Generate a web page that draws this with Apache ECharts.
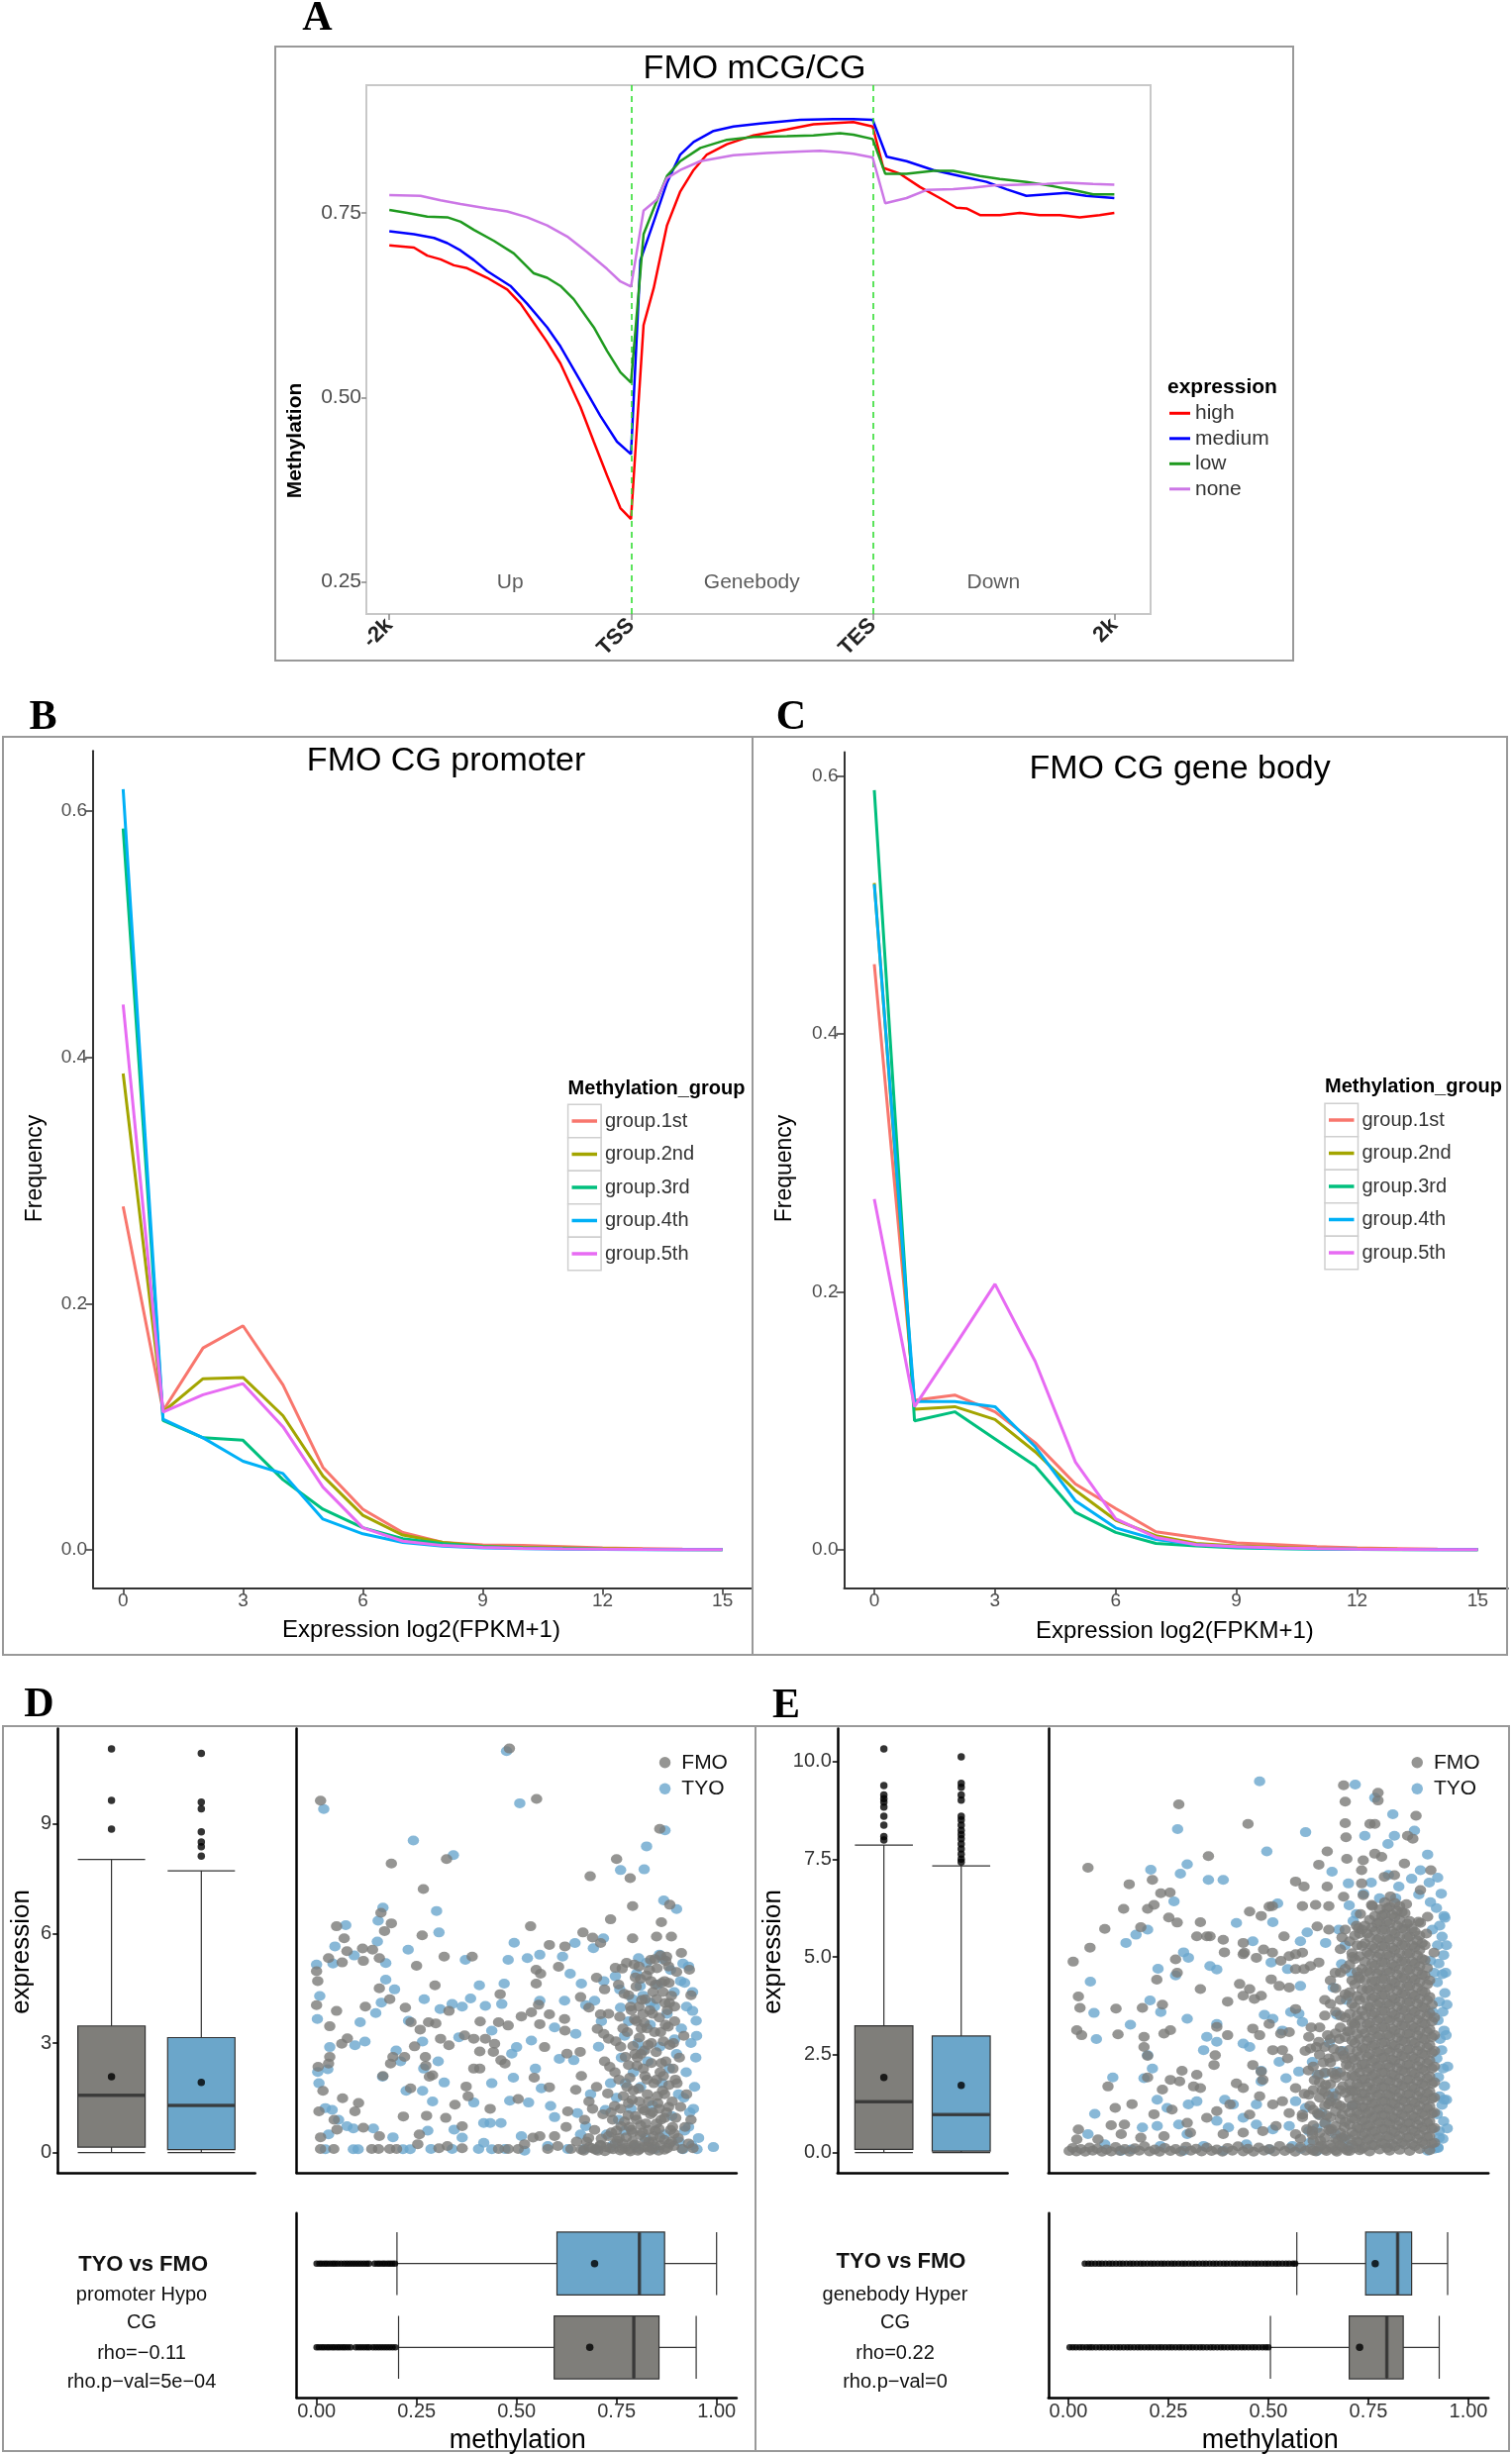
<!DOCTYPE html>
<html><head><meta charset="utf-8">
<script src="https://cdn.jsdelivr.net/npm/echarts@6/dist/echarts.min.js"></script>
<style>html,body{margin:0;padding:0;background:#fff}#c{width:1527px;height:2480px}</style>
</head><body><div id="c"></div>
<script>
// ---------------- Panel A data ----------------
const A_TICK_POS = [0, 1, 2, 3];
const A_TICK_LABELS = ['-2k', 'TSS', 'TES', '2k'];
const A_Y_TICKS = [0.25, 0.5, 0.75];
const REGION_NAMES = ['Up', 'Genebody', 'Down'];
const REGION_POS = [0.5, 1.5, 2.5];
const EXPR_NAMES = ['high', 'medium', 'low', 'none'];
const EXPR_COLORS = ['#ff0000', '#0000ff', '#1f9a1f', '#cc77e6'];
const highProfile = [[0,0.706],[0.102,0.703],[0.157,0.692],[0.212,0.687],[0.267,0.679],[0.322,0.675],[0.405,0.662],[0.488,0.646],[0.543,0.627],[0.598,0.601],[0.653,0.575],[0.708,0.546],[0.791,0.487],[0.846,0.440],[0.901,0.394],[0.956,0.350],[1.0,0.335],[1.052,0.598],[1.094,0.648],[1.149,0.733],[1.204,0.779],[1.259,0.808],[1.314,0.829],[1.397,0.843],[1.507,0.855],[1.645,0.863],[1.755,0.870],[1.865,0.872],[1.920,0.873],[2.0,0.867],[2.044,0.811],[2.113,0.803],[2.196,0.785],[2.278,0.770],[2.347,0.757],[2.388,0.756],[2.444,0.747],[2.526,0.747],[2.609,0.750],[2.691,0.747],[2.774,0.747],[2.857,0.744],[2.939,0.747],[3.0,0.750]];
const mediumProfile = [[0,0.725],[0.102,0.721],[0.185,0.716],[0.240,0.709],[0.295,0.699],[0.350,0.686],[0.405,0.671],[0.501,0.651],[0.570,0.627],[0.653,0.595],[0.708,0.569],[0.791,0.522],[0.873,0.475],[0.942,0.440],[1.0,0.423],[1.039,0.686],[1.094,0.738],[1.149,0.791],[1.204,0.829],[1.259,0.846],[1.342,0.861],[1.424,0.867],[1.534,0.871],[1.700,0.876],[1.837,0.877],[1.920,0.877],[2.0,0.876],[2.058,0.826],[2.140,0.820],[2.251,0.808],[2.361,0.800],[2.471,0.792],[2.554,0.782],[2.636,0.773],[2.719,0.775],[2.802,0.777],[2.884,0.773],[3.0,0.770]];
const lowProfile = [[0,0.754],[0.074,0.750],[0.157,0.745],[0.240,0.744],[0.295,0.738],[0.350,0.727],[0.433,0.712],[0.515,0.695],[0.598,0.668],[0.653,0.662],[0.708,0.651],[0.763,0.633],[0.846,0.595],[0.901,0.563],[0.956,0.534],[1.0,0.520],[1.052,0.721],[1.094,0.756],[1.149,0.800],[1.204,0.820],[1.287,0.838],[1.397,0.849],[1.507,0.853],[1.645,0.854],[1.755,0.855],[1.865,0.858],[1.920,0.856],[2.0,0.850],[2.052,0.803],[2.140,0.803],[2.251,0.807],[2.333,0.807],[2.444,0.800],[2.526,0.796],[2.636,0.792],[2.747,0.786],[2.857,0.779],[2.912,0.775],[3.0,0.775]];
const noneProfile = [[0,0.774],[0.129,0.773],[0.212,0.767],[0.295,0.762],[0.405,0.756],[0.488,0.752],[0.570,0.744],[0.653,0.733],[0.736,0.718],[0.818,0.697],[0.901,0.674],[0.956,0.657],[1.0,0.650],[1.052,0.753],[1.107,0.768],[1.149,0.797],[1.204,0.808],[1.287,0.820],[1.424,0.828],[1.562,0.831],[1.700,0.833],[1.782,0.834],[1.865,0.832],[1.920,0.830],[2.0,0.825],[2.052,0.763],[2.140,0.770],[2.223,0.781],[2.333,0.782],[2.416,0.784],[2.499,0.787],[2.609,0.788],[2.719,0.789],[2.802,0.791],[2.912,0.789],[3.0,0.788]];

// ---------------- Panels B / C data ----------------
const EXPR_BINS = [0,1,2,3,4,5,6,7,8,9,10,11,12,13,14,15];
const FREQ_X_TICKS = [0,3,6,9,12,15];
const FREQ_Y_TICKS = [0,0.2,0.4,0.6];
const GROUP_NAMES = ['group.1st','group.2nd','group.3rd','group.4th','group.5th'];
const GROUP_COLORS = ['#F8766D','#A3A500','#00BF7D','#00B0F6','#E76BF3'];
const promoterG1 = [0.279,0.113,0.164,0.182,0.134,0.067,0.033,0.014,0.006,0.004,0.0035,0.0025,0.0015,0.001,0.0005,0.0003];
const promoterG2 = [0.387,0.112,0.139,0.140,0.109,0.060,0.028,0.012,0.006,0.003,0.002,0.0015,0.001,0.0005,0.0003,0.0002];
const promoterG3 = [0.586,0.105,0.091,0.089,0.057,0.033,0.018,0.009,0.005,0.0025,0.0015,0.001,0.0005,0.0003,0.0002,0.0001];
const promoterG4 = [0.618,0.106,0.091,0.072,0.062,0.025,0.013,0.006,0.003,0.0015,0.001,0.0005,0.0003,0.0002,0.0001,0.0001];
const promoterG5 = [0.443,0.112,0.126,0.135,0.100,0.051,0.018,0.007,0.0035,0.002,0.0012,0.0008,0.0005,0.0003,0.0002,0.0001];
const genebodyG1 = [0.454,0.116,0.120,0.107,0.083,0.051,0.032,0.014,0.0096,0.0053,0.004,0.0024,0.0015,0.001,0.0005,0.0003];
const genebodyG2 = [0.517,0.109,0.111,0.101,0.076,0.046,0.023,0.011,0.005,0.003,0.002,0.0012,0.0008,0.0005,0.0003,0.0002];
const genebodyG3 = [0.589,0.100,0.107,0.086,0.065,0.029,0.0135,0.005,0.003,0.0015,0.001,0.0006,0.0004,0.0002,0.0001,0.0001];
const genebodyG4 = [0.516,0.115,0.115,0.111,0.080,0.038,0.017,0.008,0.004,0.002,0.0012,0.0008,0.0005,0.0003,0.0002,0.0001];
const genebodyG5 = [0.272,0.111,0.158,0.206,0.146,0.068,0.024,0.0096,0.004,0.0024,0.0015,0.001,0.0006,0.0004,0.0002,0.0001];

// ---------------- Panels D / E data ----------------
const BOX_CATS = ['FMO','TYO'];
const METH_TICKS = [0,0.25,0.5,0.75,1];
const D_EXPR_TICKS = [0,3,6,9];
const E_EXPR_TICKS = [0,2.5,5,7.5,10];
const dExprBoxFMO = [0,0.15,1.57,3.47,8.03];
const dExprBoxTYO = [0,0.08,1.29,3.15,7.72];
const dExprMean = [2.08,1.92];
const dExprOutFMO = [11.06,9.65,8.86];
const dExprOutTYO = [10.94,9.60,9.42,8.79,8.51,8.38,8.12];
const dMethBoxFMO = [0.205,0.594,0.793,0.856,0.949];
const dMethBoxTYO = [0.201,0.601,0.807,0.870,1.0];
const dMethMean = [0.683,0.695];
const dMethOutFMO = [0.0,0.006,0.013,0.019,0.026,0.032,0.039,0.045,0.052,0.058,0.065,0.071,0.078,0.085,0.098,0.105,0.112,0.119,0.126,0.132,0.141,0.148,0.155,0.162,0.169,0.176,0.183,0.19,0.197];
const dMethOutTYO = [0.0,0.007,0.013,0.02,0.026,0.033,0.04,0.046,0.053,0.061,0.069,0.076,0.083,0.09,0.097,0.104,0.111,0.118,0.125,0.131,0.145,0.152,0.158,0.165,0.171,0.178,0.184,0.19,0.196];
const eExprBoxFMO = [0,0.08,1.30,3.24,7.86];
const eExprBoxTYO = [0,0.04,0.97,2.98,7.33];
const eExprMean = [1.92,1.72];
const eExprOutFMO = [10.32,9.38,9.14,9.05,8.96,8.83,8.60,8.37,8.08,7.99];
const eExprOutTYO = [10.12,9.44,9.34,9.14,9.01,8.60,8.50,8.37,8.24,8.13,8.02,7.89,7.76,7.63,7.50,7.43];
const eMethBoxFMO = [0.505,0.702,0.796,0.837,0.927];
const eMethBoxTYO = [0.571,0.743,0.823,0.858,0.948];
const eMethMean = [0.728,0.767];
const eMethOutFMO = [0.003,0.011,0.019,0.028,0.036,0.045,0.053,0.06,0.069,0.078,0.086,0.095,0.103,0.112,0.121,0.129,0.138,0.147,0.155,0.164,0.173,0.181,0.19,0.199,0.207,0.216,0.225,0.233,0.242,0.251,0.259,0.268,0.277,0.285,0.294,0.303,0.311,0.32,0.329,0.337,0.346,0.355,0.363,0.372,0.381,0.389,0.398,0.407,0.415,0.424,0.433,0.441,0.45,0.459,0.467,0.476,0.485,0.493,0.5];
const eMethOutTYO = [0.041,0.05,0.058,0.067,0.076,0.084,0.093,0.102,0.11,0.119,0.128,0.136,0.145,0.154,0.162,0.171,0.18,0.188,0.197,0.206,0.214,0.223,0.232,0.24,0.249,0.258,0.266,0.275,0.284,0.292,0.301,0.31,0.318,0.327,0.336,0.344,0.353,0.362,0.37,0.379,0.388,0.396,0.405,0.414,0.422,0.431,0.44,0.448,0.457,0.466,0.474,0.483,0.492,0.5,0.509,0.518,0.526,0.535,0.544,0.552,0.561,0.567];

const dScatterFMO = [[0.482,11.07],[0.55,9.69],[0.01,9.64],[0.858,8.87],[0.187,7.92],[0.325,8.04],[0.267,7.22],[0.75,8.04],[0.684,7.57],[0.784,7.52],[0.79,6.75],[0.883,6.79],[0.735,6.39],[0.862,6.31],[0.535,6.2],[0.666,6.03],[0.69,5.89],[0.71,5.74],[0.79,5.87],[0.85,5.92],[0.887,5.92],[0.161,6.57],[0.187,6.28],[0.17,6.07],[0.05,6.2],[0.069,5.87],[0.076,5.52],[0.115,5.59],[0.14,5.56],[0.03,5.33],[0.064,5.21],[0.117,5.25],[0.157,5.33],[0.264,5.95],[0.319,5.37],[0.389,5.37],[0.25,5.12],[0.582,5.69],[0.621,5.65],[0.0,4.97],[0.003,4.7],[0.0,4.04],[0.05,3.88],[0.033,3.46],[0.122,4.0],[0.157,4.5],[0.183,4.2],[0.296,4.58],[0.222,3.97],[0.236,3.57],[0.259,3.37],[0.28,3.57],[0.298,3.54],[0.331,3.88],[0.31,3.12],[0.331,2.94],[0.37,3.21],[0.393,3.12],[0.409,3.59],[0.422,3.12],[0.455,3.57],[0.479,3.48],[0.459,4.34],[0.512,3.73],[0.537,3.84],[0.555,4.05],[0.549,4.63],[0.549,5.01],[0.56,4.9],[0.605,5.09],[0.66,4.26],[0.70,4.79],[0.72,4.47],[0.747,5.06],[0.764,5.04],[0.81,4.76],[0.78,4.31],[0.835,5.28],[0.875,5.37],[0.912,5.47],[0.932,5.01],[0.936,4.31],[0.881,4.65],[0.582,3.79],[0.558,3.52],[0.62,3.66],[0.621,3.34],[0.681,3.97],[0.71,3.79],[0.702,3.39],[0.718,3.25],[0.73,3.12],[0.445,2.98],[0.442,2.76],[0.461,2.53],[0.471,2.44],[0.408,2.77],[0.408,2.3],[0.393,2.3],[0.374,1.81],[0.379,1.54],[0.272,2.62],[0.273,2.38],[0.245,2.91],[0.22,2.62],[0.185,2.44],[0.191,2.62],[0.166,2.1],[0.063,2.98],[0.077,3.13],[0.033,2.62],[0.03,2.44],[0.004,2.35],[0.016,1.69],[0.065,1.49],[0.105,1.36],[0.096,1.13],[0.006,1.13],[0.044,0.9],[0.051,0.63],[0.01,0.42],[0.117,0.68],[0.157,0.45],[0.235,1.76],[0.217,0.99],[0.275,1.01],[0.282,2.08],[0.29,2.12],[0.323,0.95],[0.346,1.31],[0.364,0.72],[0.434,1.2],[0.504,1.47],[0.544,2.05],[0.582,1.79],[0.57,2.89],[0.626,2.71],[0.659,2.76],[0.648,1.72],[0.662,2.1],[0.681,1.4],[0.628,1.13],[0.624,0.7],[0.558,0.45],[0.595,0.45],[0.541,0.41],[0.257,0.5],[0.253,0.23],[0.043,0.1],[0.01,0.1],[0.138,0.1],[0.155,0.1],[0.183,0.1],[0.2,0.1],[0.306,0.12],[0.327,0.18],[0.364,0.12],[0.455,0.1],[0.479,0.1],[0.504,0.1],[0.52,0.23],[0.578,0.1],[0.603,0.18],[0.636,0.1]];
const dScatterFMOCore = [[0.662,0.08],[0.675,0.3],[0.688,0.12],[0.695,0.62],[0.703,0.05],[0.712,0.38],[0.716,1.05],[0.724,0.15],[0.728,1.62],[0.733,2.35],[0.737,0.55],[0.741,0.09],[0.745,1.28],[0.748,3.05],[0.752,0.32],[0.756,2.0],[0.758,3.72],[0.761,0.72],[0.764,0.1],[0.767,1.55],[0.769,4.35],[0.772,2.62],[0.774,0.42],[0.777,3.3],[0.779,1.02],[0.781,0.08],[0.783,2.05],[0.785,4.0],[0.787,0.62],[0.789,1.45],[0.791,2.92],[0.793,0.2],[0.795,3.65],[0.797,1.0],[0.799,4.55],[0.801,2.38],[0.803,0.05],[0.805,1.75],[0.807,3.15],[0.809,0.48],[0.811,2.7],[0.813,4.18],[0.815,1.2],[0.817,0.15],[0.819,3.55],[0.821,2.1],[0.823,0.8],[0.825,4.85],[0.827,1.6],[0.829,2.95],[0.831,0.3],[0.833,3.9],[0.835,1.05],[0.837,2.45],[0.839,0.1],[0.841,4.4],[0.843,1.9],[0.845,3.3],[0.847,0.6],[0.849,2.75],[0.851,5.05],[0.853,1.35],[0.855,0.05],[0.857,3.7],[0.859,2.2],[0.861,0.9],[0.863,4.65],[0.865,1.7],[0.867,3.05],[0.869,0.35],[0.871,4.1],[0.873,2.5],[0.875,1.1],[0.877,0.12],[0.879,3.45],[0.881,1.85],[0.883,2.95],[0.885,0.62],[0.887,4.3],[0.889,1.4],[0.891,2.3],[0.893,0.18],[0.895,3.6],[0.898,0.95],[0.901,1.9],[0.904,0.4],[0.907,2.6],[0.91,1.25],[0.914,0.1],[0.918,3.2],[0.921,0.7],[0.925,1.6],[0.93,0.25],[0.936,0.9],[0.941,0.12],[0.765,0.25],[0.79,0.3],[0.815,0.55],[0.84,0.3],[0.86,0.2],[0.8,0.9],[0.83,1.4],[0.85,2.0],[0.87,1.6],[0.82,2.8],[0.78,2.4],[0.86,3.3],[0.84,3.8],[0.87,4.7],[0.85,4.2],[0.826,3.4],[0.806,4.0],[0.846,5.3],[0.88,5.1],[0.9,4.95],[0.895,4.0],[0.86,5.4],[0.873,5.25],[0.8,3.6],[0.74,0.9],[0.76,2.9],[0.72,2.5],[0.7,1.8],[0.71,0.2],[0.69,1.2],[0.68,0.4],[0.65,0.3],[0.67,0.9],[0.73,3.8],[0.755,4.6],[0.775,5.2],[0.794,5.15],[0.668,0.05],[0.682,0.15],[0.697,0.08],[0.709,0.2],[0.721,0.04],[0.734,0.12],[0.747,0.25],[0.759,0.06],[0.771,0.14],[0.784,0.03],[0.796,0.22],[0.808,0.09],[0.82,0.3],[0.833,0.05],[0.845,0.17],[0.858,0.42],[0.87,0.08],[0.882,0.24],[0.894,0.52],[0.75,0.6],[0.77,0.85],[0.79,0.55],[0.81,0.75],[0.83,0.62],[0.85,0.8],[0.87,0.95],[0.89,0.7],[0.73,0.45],[0.76,1.2],[0.78,1.35],[0.82,1.15],[0.84,1.1],[0.88,1.25],[0.782,0.7],[0.792,1.7],[0.802,2.6],[0.812,3.4],[0.822,4.2],[0.832,5.0],[0.842,0.45],[0.852,1.55],[0.862,2.45],[0.872,3.5],[0.882,4.1],[0.892,3.0],[0.787,3.9],[0.797,4.8],[0.807,1.4],[0.817,2.3],[0.827,0.15],[0.837,3.0],[0.847,4.6],[0.857,1.2],[0.867,2.1],[0.877,3.9],[0.887,0.3],[0.897,2.0],[0.776,1.8],[0.766,3.4],[0.756,0.4],[0.746,2.2],[0.736,1.1],[0.806,5.1],[0.836,4.7],[0.866,4.4],[0.856,0.65],[0.826,2.0],[0.816,3.8],[0.796,2.7]];
const dScatterTYO = [[0.475,11.0],[0.508,9.57],[0.018,9.41],[0.871,8.83],[0.242,8.55],[0.342,8.15],[0.825,8.39],[0.819,7.76],[0.76,7.74],[0.868,6.91],[0.9,6.67],[0.30,6.62],[0.166,6.71],[0.154,6.35],[0.073,6.23],[0.306,6.03],[0.494,5.75],[0.646,5.74],[0.717,5.87],[0.692,5.6],[0.152,5.78],[0.046,5.65],[0.094,5.4],[0.229,5.56],[0.372,5.28],[0.479,5.28],[0.527,5.33],[0.558,5.42],[0.615,5.37],[0.173,5.19],[0.041,5.18],[0.0,5.15],[0.805,5.33],[0.857,5.42],[0.916,5.18],[0.008,4.29],[0.002,3.66],[0.173,4.74],[0.195,4.47],[0.162,4.11],[0.148,3.82],[0.109,3.57],[0.269,4.2],[0.309,3.93],[0.339,4.07],[0.364,4.0],[0.385,4.22],[0.407,4.58],[0.422,4.02],[0.463,4.07],[0.469,4.63],[0.558,4.16],[0.62,4.16],[0.634,4.9],[0.662,4.63],[0.673,4.04],[0.695,4.16],[0.718,4.7],[0.747,4.83],[0.758,4.47],[0.76,3.97],[0.809,4.56],[0.834,4.11],[0.92,4.65],[0.94,3.88],[0.949,3.61],[0.648,3.25],[0.595,3.43],[0.537,3.07],[0.5,2.89],[0.488,2.71],[0.438,3.34],[0.356,3.16],[0.265,3.04],[0.23,3.61],[0.121,3.04],[0.096,2.94],[0.033,2.89],[0.028,2.28],[0.003,2.21],[0.006,1.9],[0.199,2.8],[0.21,2.5],[0.268,2.3],[0.304,2.5],[0.319,1.92],[0.265,1.69],[0.224,1.69],[0.165,2.08],[0.29,1.4],[0.393,1.37],[0.438,1.9],[0.483,1.42],[0.53,1.37],[0.492,2.05],[0.547,2.3],[0.562,1.76],[0.607,2.57],[0.643,2.53],[0.585,1.28],[0.595,0.97],[0.652,1.08],[0.673,0.72],[0.722,1.17],[0.022,1.22],[0.039,1.17],[0.055,0.9],[0.076,0.72],[0.092,0.66],[0.142,0.66],[0.191,0.42],[0.278,0.6],[0.344,0.63],[0.364,0.41],[0.418,0.81],[0.434,0.81],[0.461,0.81],[0.512,0.45],[0.03,0.5],[0.022,0.09],[0.092,0.09],[0.104,0.09],[0.216,0.09],[0.234,0.09],[0.286,0.1],[0.339,0.1],[0.405,0.1],[0.418,0.27],[0.438,0.09],[0.471,0.1],[0.52,0.05],[0.578,0.18],[0.628,0.1],[0.669,0.1],[0.916,0.09],[0.951,0.09],[0.992,0.15]];
const dScatterTYOCore = [[0.74,0.2],[0.75,1.5],[0.762,2.6],[0.77,0.6],[0.78,3.6],[0.786,1.2],[0.792,2.2],[0.798,0.15],[0.803,3.0],[0.81,1.8],[0.816,4.3],[0.822,0.4],[0.828,2.5],[0.834,3.5],[0.84,1.3],[0.846,0.1],[0.852,4.6],[0.858,2.9],[0.864,1.9],[0.87,0.5],[0.876,3.8],[0.882,2.3],[0.888,1.0],[0.894,4.4],[0.9,2.7],[0.906,0.3],[0.912,3.4],[0.918,1.5],[0.924,2.2],[0.93,0.7],[0.936,3.0],[0.942,1.2],[0.948,2.6],[0.955,0.4],[0.925,4.0],[0.93,5.1],[0.91,4.7],[0.945,1.8],[0.938,0.2],[0.92,0.6],[0.905,1.6],[0.895,3.1],[0.885,5.0],[0.865,5.3],[0.845,4.0],[0.825,5.2],[0.815,2.8],[0.8,4.9],[0.79,4.2],[0.77,3.2],[0.755,0.9],[0.735,1.9],[0.725,0.5],[0.705,2.9],[0.7,0.1],[0.685,1.6],[0.66,0.5],[0.712,3.6],[0.772,1.9],[0.94,4.4],[0.95,3.2],[0.933,1.1]];

const eScatterFMO = [[0.049,7.28],[0.276,8.9],[0.449,8.4],[0.35,7.58],[0.152,6.86],[0.21,6.97],[0.231,6.63],[0.254,6.65],[0.138,6.23],[0.198,6.23],[0.214,6.33],[0.091,5.72],[0.054,5.24],[0.012,4.88],[0.181,5.76],[0.251,6.01],[0.272,5.88],[0.33,5.89],[0.354,5.53],[0.387,5.44],[0.39,5.12],[0.268,4.94],[0.272,4.6],[0.221,4.42],[0.33,4.18],[0.398,3.86],[0.025,3.99],[0.029,3.7],[0.119,3.68],[0.185,3.7],[0.235,3.78],[0.021,3.13],[0.033,3.0],[0.124,3.02],[0.189,2.96],[0.239,3.04],[0.255,3.13],[0.189,2.7],[0.198,2.47],[0.198,1.92],[0.099,1.69],[0.117,1.14],[0.159,1.24],[0.107,0.7],[0.14,0.72],[0.025,0.59],[0.235,1.61],[0.255,1.86],[0.278,1.82],[0.284,2.09],[0.321,1.99],[0.313,1.69],[0.214,0.98],[0.259,1.1],[0.33,1.65],[0.367,2.49],[0.364,2.24],[0.398,3.0],[0.371,3.21],[0.321,5.53],[0.346,5.53],[0.437,5.36],[0.44,5.11],[0.453,6.16],[0.482,6.05],[0.502,6.29],[0.51,6.3],[0.437,5.07],[0.47,4.98],[0.488,5.19],[0.51,5.11],[0.531,4.9],[0.539,5.53],[0.552,5.02],[0.568,5.07],[0.585,5.11],[0.568,4.69],[0.589,4.69],[0.605,4.77],[0.626,4.86],[0.428,4.31],[0.437,4.01],[0.453,4.18],[0.465,3.93],[0.482,4.01],[0.507,4.43],[0.527,4.26],[0.552,4.22],[0.568,3.67],[0.461,3.17],[0.478,3.0],[0.502,3.29],[0.531,3.04],[0.552,3.08],[0.601,2.96],[0.605,2.66],[0.511,2.62],[0.535,2.62],[0.548,2.41],[0.626,2.83],[0.651,2.41],[0.461,2.24],[0.482,2.07],[0.486,1.86],[0.437,1.65],[0.42,1.77],[0.404,1.23],[0.478,1.44],[0.511,1.23],[0.535,1.31],[0.568,1.65],[0.601,1.48],[0.626,1.99],[0.643,1.73],[0.667,1.99],[0.688,2.49],[0.651,1.23],[0.684,0.97],[0.552,1.01],[0.585,0.97],[0.453,0.97],[0.371,1.06],[0.346,0.89],[0.297,0.76],[0.305,0.51],[0.239,0.42],[0.181,0.38],[0.132,0.47],[0.074,0.34],[0.021,0.34],[0.387,0.47],[0.437,0.51],[0.486,0.55],[0.519,0.68],[0.568,0.47],[0.61,0.55],[0.651,0.59],[0.684,0.38],[0.688,9.39],[0.692,8.97],[0.774,9.2],[0.774,9.0],[0.869,8.61],[0.754,8.4],[0.766,8.4],[0.692,8.42],[0.694,8.06],[0.848,8.1],[0.861,8.02],[0.647,7.7],[0.696,7.51],[0.766,7.64],[0.783,7.56],[0.626,7.36],[0.737,7.47],[0.733,7.22],[0.84,7.39],[0.906,7.22],[0.568,6.93],[0.589,6.8],[0.647,6.8],[0.733,6.88],[0.79,7.05],[0.815,7.09],[0.88,6.71],[0.585,6.3],[0.618,6.33],[0.651,6.3],[0.688,6.54],[0.737,6.58],[0.758,6.33],[0.622,5.78],[0.651,5.7],[0.692,5.7],[0.725,5.74],[0.88,5.87],[0.898,6.03],[0.914,5.11]];
const eScatterFMOFringe = [[0.58,0.35],[0.585,0.9],[0.59,1.5],[0.596,0.6],[0.6,2.1],[0.604,1.2],[0.61,0.45],[0.615,1.85],[0.62,2.7],[0.623,1.0],[0.63,0.3],[0.634,1.6],[0.637,2.3],[0.645,0.95],[0.648,3.0],[0.65,1.45],[0.658,0.6],[0.66,2.05],[0.663,2.65],[0.67,1.25],[0.674,0.3],[0.677,2.9],[0.68,3.5],[0.686,1.7],[0.69,0.65],[0.695,2.25],[0.698,3.1],[0.7,4.0],[0.705,1.6],[0.71,5.0],[0.715,3.3],[0.72,5.8],[0.725,4.5],[0.592,2.6],[0.607,3.2],[0.641,3.9],[0.667,4.6],[0.684,5.5],[0.73,6.1],[0.76,6.3],[0.805,6.55],[0.845,6.35],[0.875,5.9],[0.895,5.6]];
const eScatterFMOBase = [[0.002,0.04],[0.011,0.12],[0.02,0.03],[0.031,0.09],[0.042,0.02],[0.053,0.13],[0.061,0.05],[0.072,0.1],[0.084,0.02],[0.095,0.08],[0.107,0.03],[0.118,0.14],[0.129,0.04],[0.141,0.09],[0.153,0.02],[0.166,0.11],[0.177,0.05],[0.19,0.16],[0.203,0.03],[0.216,0.08],[0.228,0.02],[0.241,0.12],[0.255,0.04],[0.268,0.09],[0.281,0.02],[0.294,0.15],[0.306,0.05],[0.319,0.1],[0.333,0.03],[0.346,0.13],[0.358,0.04],[0.371,0.08],[0.385,0.02],[0.398,0.12],[0.41,0.05],[0.424,0.16],[0.437,0.03],[0.449,0.1],[0.463,0.02],[0.476,0.13],[0.489,0.05],[0.502,0.09],[0.515,0.03],[0.528,0.17],[0.541,0.04],[0.554,0.11],[0.567,0.02],[0.58,0.14],[0.593,0.05],[0.606,0.1],[0.619,0.03],[0.632,0.18],[0.645,0.04],[0.658,0.12],[0.671,0.02],[0.684,0.15],[0.697,0.05]];
const eScatterFMOCore = [
  [0.612,[0.05,0.3,0.7,1.1,1.6,2.2]],
  [0.628,[0.15,0.5,0.95,1.4,1.8,2.5,3.2]],
  [0.641,[0.08,0.38,0.75,1.2,1.55,2.05,2.7,3.5]],
  [0.655,[0.2,0.55,0.9,1.3,1.75,2.3,2.9,3.8,4.4]],
  [0.668,[0.06,0.35,0.68,1.05,1.45,1.9,2.45,3.05,3.6,4.2]],
  [0.68,[0.18,0.5,0.85,1.2,1.6,2.05,2.6,3.2,3.9,4.6,5.2]],
  [0.692,[0.1,0.42,0.78,1.14,1.52,1.95,2.4,2.95,3.45,4.05,4.7]],
  [0.703,[0.04,0.33,0.71,1.02,1.38,1.76,2.2,2.63,3.1,3.55,4.1,4.8,5.4]],
  [0.709,[0.2,0.52,0.88,1.2,1.57,1.98,2.42,2.86,3.32,3.8,4.4,5.1]],
  [0.716,[0.12,0.45,0.86,1.21,1.57,1.95,2.37,2.8,3.26,3.72,4.3,4.95,5.55]],
  [0.722,[0.28,0.65,1.04,1.4,1.76,2.16,2.59,3.03,3.5,4.0,4.62,5.3]],
  [0.728,[0.06,0.27,0.62,0.98,1.33,1.69,2.05,2.46,2.9,3.38,3.9,4.45,5.02,5.6]],
  [0.734,[0.1,0.44,0.8,1.16,1.51,1.87,2.25,2.68,3.14,3.62,4.17,4.7,5.28,5.7]],
  [0.741,[0.15,0.5,0.84,1.15,1.5,1.88,2.27,2.66,3.05,3.5,3.95,4.41,4.88,5.35,5.8]],
  [0.747,[0.32,0.67,1.0,1.33,1.69,2.07,2.46,2.86,3.28,3.73,4.18,4.64,5.12,5.6]],
  [0.753,[0.03,0.36,0.7,1.06,1.42,1.78,2.14,2.52,2.93,3.31,3.72,4.15,4.6,5.06,5.5,5.95]],
  [0.759,[0.19,0.53,0.88,1.24,1.6,1.96,2.33,2.73,3.12,3.52,3.94,4.37,4.83,5.28,5.75]],
  [0.766,[0.18,0.55,0.92,1.26,1.63,2.0,2.38,2.75,3.16,3.57,3.98,4.38,4.79,5.22,5.66,6.05]],
  [0.772,[0.37,0.74,1.09,1.45,1.82,2.19,2.57,2.96,3.37,3.78,4.18,4.58,5.0,5.44,5.86]],
  [0.778,[0.08,0.41,0.78,1.12,1.49,1.86,2.23,2.6,3.0,3.42,3.83,4.24,4.66,5.08,5.48,5.9,6.22]],
  [0.784,[0.24,0.6,0.95,1.3,1.68,2.05,2.42,2.8,3.21,3.62,4.03,4.45,4.87,5.28,5.69,6.06]],
  [0.791,[0.22,0.6,0.95,1.31,1.67,2.05,2.44,2.82,3.2,3.62,4.02,4.44,4.86,5.27,5.7,6.1,6.4]],
  [0.797,[0.12,0.42,0.78,1.13,1.49,1.86,2.25,2.63,3.01,3.41,3.82,4.23,4.65,5.06,5.48,5.9,6.25]],
  [0.803,[0.05,0.39,0.74,1.1,1.45,1.82,2.19,2.57,2.97,3.38,3.78,4.2,4.62,5.03,5.45,5.86,6.28]],
  [0.809,[0.22,0.57,0.92,1.28,1.64,2.01,2.38,2.77,3.17,3.57,3.98,4.4,4.82,5.24,5.66,6.08]],
  [0.816,[0.16,0.52,0.88,1.24,1.6,1.97,2.35,2.74,3.12,3.52,3.93,4.34,4.76,5.18,5.6,6.02,6.38]],
  [0.822,[0.34,0.7,1.06,1.42,1.79,2.17,2.55,2.94,3.33,3.73,4.14,4.55,4.97,5.39,5.8,6.18]],
  [0.828,[0.07,0.43,0.8,1.16,1.52,1.9,2.28,2.66,3.05,3.45,3.86,4.27,4.68,5.1,5.52,5.95,6.3]],
  [0.834,[0.25,0.62,0.98,1.34,1.71,2.09,2.47,2.86,3.25,3.65,4.06,4.47,4.89,5.31,5.73,6.15]],
  [0.841,[0.2,0.57,0.93,1.3,1.68,2.06,2.44,2.83,3.23,3.63,4.04,4.46,4.88,5.3,5.72,6.12]],
  [0.847,[0.38,0.75,1.11,1.48,1.86,2.24,2.63,3.03,3.43,3.84,4.25,4.67,5.09,5.5,5.85]],
  [0.853,[0.04,0.4,0.76,1.13,1.5,1.87,2.25,2.64,3.04,3.44,3.85,4.26,4.68,5.1,5.52,5.92]],
  [0.859,[0.22,0.58,0.95,1.32,1.69,2.07,2.46,2.85,3.24,3.64,4.05,4.47,4.89,5.3,5.72]],
  [0.866,[0.17,0.54,0.9,1.27,1.64,2.02,2.41,2.8,3.19,3.6,4.01,4.42,4.84,5.25,5.65]],
  [0.872,[0.35,0.72,1.09,1.46,1.83,2.22,2.61,3.0,3.4,3.81,4.22,4.63,5.04,5.42]],
  [0.878,[0.09,0.45,0.82,1.19,1.56,1.94,2.33,2.72,3.12,3.52,3.93,4.35,4.76,5.18,5.55]],
  [0.884,[0.27,0.64,1.01,1.38,1.76,2.14,2.53,2.92,3.32,3.72,4.13,4.55,4.95,5.35]],
  [0.891,[0.21,0.58,0.95,1.33,1.71,2.1,2.49,2.89,3.29,3.7,4.1,4.52,4.92,5.3]],
  [0.897,[0.4,0.77,1.14,1.52,1.9,2.29,2.69,3.09,3.49,3.9,4.3,4.72]],
  [0.903,[0.06,0.42,0.8,1.18,1.56,1.95,2.35,2.75,3.15,3.56,3.98,4.4]],
  [0.909,[0.23,0.61,1.0,1.38,1.76,2.15,2.55,2.95,3.35,3.78]],
  [0.915,[0.25,0.63,1.02,1.41,1.8,2.2,2.6,3.0,3.45]]
];
const eScatterTYO = [[0.478,9.49],[0.717,9.41],[0.766,9.07],[0.811,8.65],[0.865,8.23],[0.273,8.27],[0.593,8.19],[0.496,7.7],[0.898,7.62],[0.815,8.1],[0.741,8.1],[0.799,7.89],[0.206,7.23],[0.297,7.37],[0.28,7.13],[0.35,6.97],[0.387,6.97],[0.659,7.18],[0.7,6.88],[0.88,7.22],[0.923,7.03],[0.264,6.42],[0.523,6.37],[0.42,5.87],[0.511,5.89],[0.198,5.7],[0.169,5.57],[0.144,5.36],[0.461,5.4],[0.58,5.4],[0.597,5.63],[0.643,5.36],[0.288,5.12],[0.3,4.98],[0.354,4.77],[0.371,4.68],[0.224,4.7],[0.268,4.53],[0.507,4.86],[0.548,4.69],[0.58,4.26],[0.055,4.37],[0.064,3.57],[0.155,3.27],[0.07,2.9],[0.204,3.89],[0.231,3.59],[0.297,3.42],[0.371,3.29],[0.346,2.96],[0.371,2.83],[0.437,2.79],[0.453,2.7],[0.49,3.52],[0.511,3.42],[0.556,3.59],[0.576,3.55],[0.585,3.34],[0.535,3.12],[0.338,2.62],[0.198,2.49],[0.21,2.15],[0.111,1.92],[0.189,1.9],[0.066,0.99],[0.049,0.47],[0.222,1.35],[0.247,1.14],[0.3,1.23],[0.321,1.31],[0.391,1.35],[0.412,1.23],[0.482,2.09],[0.527,2.32],[0.482,1.82],[0.544,1.9],[0.576,2.07],[0.61,2.32],[0.622,1.99],[0.47,1.23],[0.568,1.31],[0.593,1.14],[0.626,0.97],[0.659,1.39],[0.671,2.07],[0.185,0.64],[0.222,0.68],[0.276,0.72],[0.297,0.47],[0.371,0.81],[0.4,0.64],[0.437,0.89],[0.47,0.72],[0.511,0.59],[0.552,0.68],[0.601,0.55],[0.643,0.76],[0.667,0.47],[0.091,0.21],[0.132,0.05],[0.157,0.08],[0.23,0.17],[0.288,0.05],[0.338,0.17],[0.387,0.05],[0.445,0.21],[0.503,0.08],[0.56,0.17],[0.622,0.05],[0.898,0.05],[0.923,0.13],[0.927,0.38],[0.939,1.35]];
const eScatterTYOEdge = [[0.924,0.12],[0.927,0.55],[0.922,0.98],[0.928,1.44],[0.925,1.93],[0.921,2.41],[0.929,2.9],[0.924,3.38],[0.927,3.86],[0.922,4.35],[0.926,4.83],[0.923,5.3],[0.928,5.8],[0.92,6.25],[0.936,0.35],[0.938,0.8],[0.934,1.22],[0.94,1.7],[0.937,2.15],[0.933,2.62],[0.939,3.12],[0.936,3.6],[0.941,4.08],[0.935,4.56],[0.938,5.05],[0.934,5.52],[0.939,6.05],[0.932,6.62],[0.947,0.62],[0.945,1.35],[0.948,2.2],[0.944,3.0],[0.946,3.78],[0.943,4.6],[0.945,5.3],[0.941,6.0],[0.72,6.1],[0.738,6.62],[0.757,6.9],[0.778,6.5],[0.8,7.1],[0.826,6.8],[0.858,7.0],[0.876,6.6],[0.902,6.9],[0.818,6.5],[0.702,6.32],[0.712,5.92],[0.692,5.3],[0.683,4.82],[0.662,4.22],[0.671,3.52],[0.652,2.8],[0.641,2.02],[0.662,1.52],[0.633,1.02],[0.621,0.62],[0.69,0.35],[0.603,0.25],[0.581,0.1],[0.686,2.6],[0.695,3.9],[0.707,4.6],[0.676,5.7],[0.71,1.2],[0.7,0.15],[0.905,6.4],[0.91,5.7],[0.914,4.6],[0.905,4.9],[0.91,3.6],[0.915,0.1]];

const dNote = ['TYO vs FMO', 'promoter Hypo', 'CG', 'rho=\u22120.11', 'rho.p\u2212val=5e\u221204'];
const eNote = ['TYO vs FMO', 'genebody Hyper', 'CG', 'rho=0.22', 'rho.p\u2212val=0'];

// ---------------- build ----------------
const FONT = '"Liberation Sans", Arial, Helvetica, sans-serif';
const FMO_COL = '#7b7b78', TYO_COL = '#6aa6cd';
const FMO_BOX = '#7f7e7a', TYO_BOX = '#6ba6ca';
const DOT = [11.5, 10];
const axisBlack = {show: true, onZero: false, lineStyle: {color: '#000', width: 2.5}};
const noSplit = {show: false};

const grids = [], xAxes = [], yAxes = [], series = [], gfx = [];

function text(x, y, t, size, opt) {
  opt = opt || {};
  gfx.push({type: 'text', x: x, y: y, rotation: opt.rot || 0, z: 20,
    style: {text: t, fontSize: size, fontFamily: opt.family || FONT, fontWeight: opt.weight || 'normal',
      fill: opt.color || '#000', align: opt.align || 'center', verticalAlign: 'middle'}});
}
function rect(x, y, w, h, stroke, fill, lw, z) {
  gfx.push({type: 'rect', z: z || 1, shape: {x: x, y: y, width: w, height: h},
    style: {fill: fill || 'none', stroke: stroke, lineWidth: lw || 2}});
}

// Panel A
grids.push({left: 370, top: 86, width: 792, height: 534, show: true, borderColor: '#c8c8c8', borderWidth: 2});
xAxes.push({type: 'value', gridIndex: 0, min: -0.095, max: 3.15, axisLine: {show: false, onZero: false},
  axisTick: {show: true, customValues: A_TICK_POS, length: 6, lineStyle: {color: '#888', width: 1.5}},
  axisLabel: {customValues: A_TICK_POS, formatter: v => A_TICK_LABELS[A_TICK_POS.indexOf(v)], rotate: 45,
    fontSize: 22, fontWeight: 'bold', color: '#222', margin: 8, fontFamily: FONT}, splitLine: noSplit});
yAxes.push({type: 'value', gridIndex: 0, min: 0.2065, max: 0.923, axisLine: {show: false, onZero: false},
  axisTick: {show: true, customValues: A_Y_TICKS, length: 5, lineStyle: {color: '#888', width: 1.5}},
  axisLabel: {customValues: A_Y_TICKS, formatter: v => v.toFixed(2), fontSize: 21, color: '#4d4d4d', margin: 5, fontFamily: FONT},
  splitLine: noSplit});
[highProfile, mediumProfile, lowProfile, noneProfile].forEach((d, i) => {
  const s = {type: 'line', name: EXPR_NAMES[i], xAxisIndex: 0, yAxisIndex: 0, data: d, symbol: 'none',
    lineStyle: {color: EXPR_COLORS[i], width: 2.5}, itemStyle: {color: EXPR_COLORS[i]}, z: 3 + i};
  if (i === 0) s.markLine = {silent: true, symbol: 'none', label: {show: false},
    lineStyle: {type: [6, 5], color: '#33dd33', width: 1.6}, data: [{xAxis: 1}, {xAxis: 2}]};
  series.push(s);
});
series.push({type: 'scatter', xAxisIndex: 0, yAxisIndex: 0, symbolSize: 1, itemStyle: {color: 'rgba(0,0,0,0)'},
  label: {show: true, position: 'inside', formatter: '{b}', fontSize: 21, color: '#333', fontFamily: FONT},
  data: REGION_NAMES.map((n, i) => ({name: n, value: [REGION_POS[i], 0.2485]}))});

// Panels B, C
function freqPanel(gi, geo, arrays) {
  grids.push({left: geo.left, top: geo.top, width: geo.width, height: geo.height});
  xAxes.push({type: 'value', gridIndex: gi, min: -0.75, max: 15.75, axisLine: {show: true, onZero: false, lineStyle: {color: '#333', width: 2}},
    axisTick: {show: true, customValues: FREQ_X_TICKS, length: 7, lineStyle: {color: '#333', width: 1.5}},
    axisLabel: {customValues: FREQ_X_TICKS, fontSize: 19, color: '#4d4d4d', margin: 4, fontFamily: FONT}, splitLine: noSplit});
  yAxes.push({type: 'value', gridIndex: gi, min: geo.ymin, max: geo.ymax, axisLine: {show: true, onZero: false, lineStyle: {color: '#333', width: 2}},
    axisTick: {show: true, customValues: FREQ_Y_TICKS, length: 8, lineStyle: {color: '#333', width: 1.5}},
    axisLabel: {customValues: FREQ_Y_TICKS, formatter: v => v.toFixed(1), fontSize: 19, color: '#4d4d4d', margin: 6, fontFamily: FONT},
    splitLine: noSplit});
  arrays.forEach((arr, i) => series.push({type: 'line', name: GROUP_NAMES[i], xAxisIndex: gi, yAxisIndex: gi,
    data: EXPR_BINS.map((b, j) => [b, arr[j]]), symbol: 'none', lineStyle: {color: GROUP_COLORS[i], width: 3},
    itemStyle: {color: GROUP_COLORS[i]}, z: 3 + i}));
}
freqPanel(1, {left: 94.1, top: 758.3, width: 665.8, height: 845.2, ymin: -0.031, ymax: 0.649},
  [promoterG1, promoterG2, promoterG3, promoterG4, promoterG5]);
freqPanel(2, {left: 852.5, top: 759.4, width: 670.4, height: 844, ymin: -0.0295, ymax: 0.6185},
  [genebodyG1, genebodyG2, genebodyG3, genebodyG4, genebodyG5]);

// Panels D, E
function dePanel(k, g, d) {
  const top = 1745.6, h = 448.4;
  grids.push({left: g.boxL, top: top, width: g.boxW, height: h});
  grids.push({left: g.boxHL, top: top, width: g.boxHW, height: h});
  grids.push({left: g.scL, top: top, width: 444.4, height: h});
  grids.push({left: g.scL, top: 2234.8, width: 444.4, height: 186.2});
  grids.push({left: g.scL, top: 2243.3, width: 444.4, height: 169.3});
  xAxes.push({type: 'value', gridIndex: k, min: 0, max: 1, axisLine: axisBlack, axisTick: {show: false}, axisLabel: {show: false}, splitLine: noSplit});
  yAxes.push({type: 'value', gridIndex: k, min: g.yMin, max: g.yMax, axisLine: axisBlack,
    axisTick: {show: true, customValues: g.yTicks, length: 5, lineStyle: {color: '#000', width: 1.5}},
    axisLabel: {customValues: g.yTicks, formatter: g.yFmt, fontSize: 20, color: '#333', margin: 6, fontFamily: FONT}, splitLine: noSplit});
  xAxes.push({type: 'category', gridIndex: k + 1, data: BOX_CATS, show: false});
  yAxes.push({type: 'value', gridIndex: k + 1, min: g.yMin, max: g.yMax, show: false, splitLine: noSplit});
  xAxes.push({type: 'value', gridIndex: k + 2, min: -0.05, max: 1.05, axisLine: axisBlack, axisTick: {show: false}, axisLabel: {show: false}, splitLine: noSplit});
  yAxes.push({type: 'value', gridIndex: k + 2, min: g.yMin, max: g.yMax, axisLine: axisBlack, axisTick: {show: false}, axisLabel: {show: false}, splitLine: noSplit});
  xAxes.push({type: 'value', gridIndex: k + 3, min: -0.05, max: 1.05, axisLine: axisBlack,
    axisTick: {show: true, customValues: METH_TICKS, length: 7, lineStyle: {color: '#000', width: 1.5}},
    axisLabel: {customValues: METH_TICKS, formatter: v => v.toFixed(2), fontSize: 20, color: '#333', margin: 4, fontFamily: FONT}, splitLine: noSplit});
  yAxes.push({type: 'value', gridIndex: k + 3, min: 0, max: 1, axisLine: axisBlack, axisTick: {show: false}, axisLabel: {show: false}, splitLine: noSplit});
  xAxes.push({type: 'value', gridIndex: k + 4, min: -0.05, max: 1.05, show: false, splitLine: noSplit});
  yAxes.push({type: 'category', gridIndex: k + 4, data: BOX_CATS, show: false});

  const boxStyle = {borderColor: '#333', borderWidth: 1.2};
  series.push({type: 'boxplot', layout: 'vertical', silent: true, xAxisIndex: k + 1, yAxisIndex: k + 1, boxWidth: [g.bw, g.bw],
    itemStyle: boxStyle,
    data: [{value: d.exprFMO, itemStyle: {color: FMO_BOX, borderColor: '#333', borderWidth: 1.2}},
           {value: d.exprTYO, itemStyle: {color: TYO_BOX, borderColor: '#333', borderWidth: 1.2}}]});
  series.push({type: 'scatter', silent: true, xAxisIndex: k + 1, yAxisIndex: k + 1, symbol: 'rect', symbolSize: [g.bw - 1, 3.5],
    itemStyle: {color: '#333'}, data: [[0, d.exprFMO[2]], [1, d.exprTYO[2]]], z: 4});
  series.push({type: 'scatter', silent: true, xAxisIndex: k + 1, yAxisIndex: k + 1, symbolSize: 7.5, itemStyle: {color: '#000'},
    data: [[0, d.exprMean[0]], [1, d.exprMean[1]]].concat(d.exprOutFMO.map(v => [0, v]), d.exprOutTYO.map(v => [1, v])), z: 5});
  series.push({type: 'scatter', name: 'TYO', silent: true, xAxisIndex: k + 2, yAxisIndex: k + 2, symbolSize: DOT,
    itemStyle: {color: TYO_COL}, data: d.scTYO, z: 2});
  series.push({type: 'scatter', name: 'FMO', silent: true, xAxisIndex: k + 2, yAxisIndex: k + 2, symbolSize: DOT,
    itemStyle: {color: FMO_COL}, data: d.scFMO, z: 3});
  series.push({type: 'boxplot', layout: 'horizontal', silent: true, xAxisIndex: k + 4, yAxisIndex: k + 4, boxWidth: [63.5, 63.5],
    itemStyle: boxStyle,
    data: [{value: d.methFMO, itemStyle: {color: FMO_BOX, borderColor: '#333', borderWidth: 1.2}},
           {value: d.methTYO, itemStyle: {color: TYO_BOX, borderColor: '#333', borderWidth: 1.2}}]});
  series.push({type: 'scatter', silent: true, xAxisIndex: k + 4, yAxisIndex: k + 4, symbol: 'rect', symbolSize: [3.5, 62.5],
    itemStyle: {color: '#333'}, data: [[d.methFMO[2], 0], [d.methTYO[2], 1]], z: 4});
  series.push({type: 'scatter', silent: true, xAxisIndex: k + 4, yAxisIndex: k + 4, symbolSize: 7.5, itemStyle: {color: '#000'},
    data: [[d.methMean[0], 0], [d.methMean[1], 1]], z: 5});
  series.push({type: 'scatter', silent: true, xAxisIndex: k + 4, yAxisIndex: k + 4, symbolSize: 6.5, itemStyle: {color: '#000'},
    data: d.methOutFMO.map(v => [v, 0]).concat(d.methOutTYO.map(v => [v, 1])), z: 5});
}

const eCoreFlat = [];
eScatterFMOCore.forEach(c => c[1].forEach(y => eCoreFlat.push([c[0], y])));

dePanel(3, {boxL: 58.2, boxW: 199.5, boxHL: 67.25, boxHW: 181.4, bw: 68, scL: 299.5, yMin: -0.553, yMax: 11.613,
  yTicks: D_EXPR_TICKS, yFmt: v => String(v)},
  {exprFMO: dExprBoxFMO, exprTYO: dExprBoxTYO, exprMean: dExprMean, exprOutFMO: dExprOutFMO, exprOutTYO: dExprOutTYO,
   methFMO: dMethBoxFMO, methTYO: dMethBoxTYO, methMean: dMethMean, methOutFMO: dMethOutFMO, methOutTYO: dMethOutTYO,
   scFMO: dScatterFMO.concat(dScatterFMOCore), scTYO: dScatterTYO.concat(dScatterTYOCore)});
dePanel(8, {boxL: 845.8, boxW: 171.8, boxHL: 853.6, boxHW: 156.2, bw: 58.6, scL: 1058.8, yMin: -0.516, yMax: 10.836,
  yTicks: E_EXPR_TICKS, yFmt: v => v.toFixed(1)},
  {exprFMO: eExprBoxFMO, exprTYO: eExprBoxTYO, exprMean: eExprMean, exprOutFMO: eExprOutFMO, exprOutTYO: eExprOutTYO,
   methFMO: eMethBoxFMO, methTYO: eMethBoxTYO, methMean: eMethMean, methOutFMO: eMethOutFMO, methOutTYO: eMethOutTYO,
   scFMO: eScatterFMO.concat(eScatterFMOBase, eScatterFMOFringe, eCoreFlat), scTYO: eScatterTYO.concat(eScatterTYOEdge)});

// ---------------- decorations ----------------
rect(278, 47, 1028, 620, '#999');
rect(3, 744, 757, 927, '#999');
rect(760, 744, 762, 927, '#999');
rect(3, 1743, 760, 732, '#999');
rect(763, 1743, 761, 732, '#999');
const SERIF = '"Liberation Serif", "Times New Roman", serif';
text(320.5, 19, 'A', 42, {family: SERIF, weight: 'bold'});
text(43.5, 725, 'B', 42, {family: SERIF, weight: 'bold'});
text(799, 725, 'C', 42, {family: SERIF, weight: 'bold'});
text(39.5, 1722, 'D', 42, {family: SERIF, weight: 'bold'});
text(794, 1723.6, 'E', 42, {family: SERIF, weight: 'bold'});

text(762, 70, 'FMO mCG/CG', 34);
text(298, 445, 'Methylation', 21, {weight: 'bold', rot: Math.PI / 2});
text(1179, 391, 'expression', 21, {weight: 'bold', align: 'left'});

text(450.6, 769, 'FMO CG promoter', 34);
text(1191.6, 776.6, 'FMO CG gene body', 34);
text(35.5, 1180, 'Frequency', 23, {rot: Math.PI / 2});
text(792.5, 1180, 'Frequency', 23, {rot: Math.PI / 2});
text(425.5, 1646, 'Expression log2(FPKM+1)', 24);
text(1186.4, 1647, 'Expression log2(FPKM+1)', 24);
text(573.6, 1099, 'Methylation_group', 20, {weight: 'bold', align: 'left'});
text(1338, 1097.5, 'Methylation_group', 20, {weight: 'bold', align: 'left'});
for (let i = 0; i < 5; i++) {
  rect(573.6, 1115.25 + i * 33.5, 33.5, 33.5, '#cfcfcf', '#ffffff', 1.5, 1);
  rect(1338, 1114.25 + i * 33.5, 33.5, 33.5, '#cfcfcf', '#ffffff', 1.5, 1);
}

text(22, 1971, 'expression', 26, {rot: Math.PI / 2});
text(780.7, 1971, 'expression', 26, {rot: Math.PI / 2});
text(522.7, 2464.6, 'methylation', 27);
text(1282.7, 2464.6, 'methylation', 27);
const noteY = [2286.6, 2317.4, 2345.6, 2376.4, 2405.6];
dNote.forEach((t, i) => text(i === 0 ? 144.6 : 143, noteY[i], t, i === 0 ? 22 : 20, {weight: i === 0 ? 'bold' : 'normal', color: '#111'}));
eNote.forEach((t, i) => text(i === 0 ? 910 : 904, noteY[i] - (i === 0 ? 3 : 0), t, i === 0 ? 22 : 20, {weight: i === 0 ? 'bold' : 'normal', color: '#111'}));

const legends = [
  {data: EXPR_NAMES, orient: 'vertical', left: 1181, top: 406.8, padding: 0, itemWidth: 21, itemHeight: 3, icon: 'rect',
   itemGap: 4.5, selectedMode: false, textStyle: {fontSize: 21, lineHeight: 21, color: '#333', fontFamily: FONT}},
  {data: GROUP_NAMES, orient: 'vertical', left: 577.5, top: 1122, padding: 0, itemWidth: 25.5, itemHeight: 3.5, icon: 'rect',
   itemGap: 13.5, selectedMode: false, z: 6, textStyle: {fontSize: 20, lineHeight: 20, color: '#333', fontFamily: FONT, padding: [0, 0, 0, 3]}},
  {data: GROUP_NAMES, orient: 'vertical', left: 1342, top: 1121, padding: 0, itemWidth: 25.5, itemHeight: 3.5, icon: 'rect',
   itemGap: 13.5, selectedMode: false, z: 6, textStyle: {fontSize: 20, lineHeight: 20, color: '#333', fontFamily: FONT, padding: [0, 0, 0, 3]}},
  {data: ['FMO', 'TYO'], orient: 'vertical', left: 665.8, top: 1769.3, padding: 0, itemWidth: 11.5, itemHeight: 11.5, icon: 'circle',
   itemGap: 5.4, selectedMode: false, textStyle: {fontSize: 21, lineHeight: 20, color: '#111', fontFamily: FONT, padding: [0, 0, 0, 6]}},
  {data: ['FMO', 'TYO'], orient: 'vertical', left: 1425.5, top: 1769.3, padding: 0, itemWidth: 11.5, itemHeight: 11.5, icon: 'circle',
   itemGap: 5.4, selectedMode: false, textStyle: {fontSize: 21, lineHeight: 20, color: '#111', fontFamily: FONT, padding: [0, 0, 0, 6]}}
];

const chart = echarts.init(document.getElementById('c'), null, {renderer: 'canvas'});
chart.setOption({
  animation: false,
  backgroundColor: '#ffffff',
  textStyle: {fontFamily: FONT},
  grid: grids, xAxis: xAxes, yAxis: yAxes, series: series, legend: legends,
  graphic: {elements: gfx}
});
</script></body></html>
